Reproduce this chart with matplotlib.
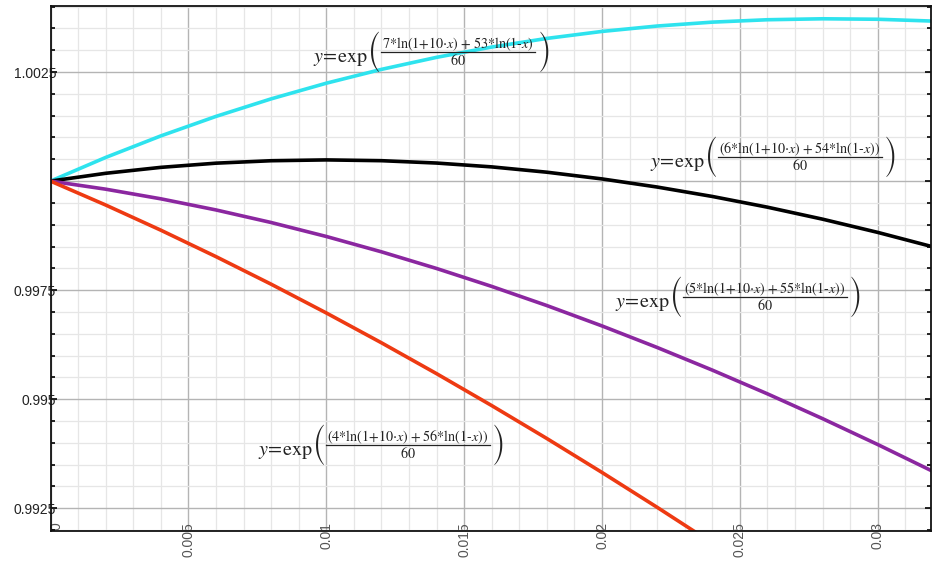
import matplotlib
matplotlib.use("Agg")
import matplotlib.pyplot as plt
from matplotlib.ticker import MultipleLocator, FixedLocator
from matplotlib.lines import Line2D
from matplotlib.transforms import ScaledTranslation

# values, x step 0.002
x_vals = [0.000, 0.002, 0.004, 0.006, 0.008, 0.010, 0.012, 0.014, 0.016,
          0.018, 0.020, 0.022, 0.024, 0.026, 0.028, 0.030, 0.032]
y_k7 = [1.000000, 1.000542, 1.001036, 1.001483, 1.001885, 1.002244, 1.002561,
        1.002837, 1.003073, 1.003271, 1.003431, 1.003555, 1.003644, 1.003699,
        1.003721, 1.003710, 1.003668]
y_k6 = [1.000000, 1.000179, 1.000315, 1.000411, 1.000467, 1.000486, 1.000468,
        1.000414, 1.000326, 1.000204, 1.000050, 0.999864, 0.999648, 0.999402,
        0.999127, 0.998824, 0.998493]
y_k5 = [1.000000, 0.999815, 0.999594, 0.999339, 0.999051, 0.998731, 0.998379,
        0.997997, 0.997586, 0.997147, 0.996680, 0.996186, 0.995667, 0.995123,
        0.994554, 0.993961, 0.993345]
y_k4 = [1.000000, 0.999452, 0.998875, 0.998269, 0.997637, 0.996978, 0.996294,
        0.995586, 0.994854, 0.994099, 0.993321, 0.992522, 0.991703, 0.990862]

x_ticks = [0, 0.005, 0.01, 0.015, 0.02, 0.025, 0.03]
x_tick_labels = ["0", "0.005", "0.01", "0.015", "0.02", "0.025", "0.03"]
y_ticks = [0.9925, 0.995, 0.9975, 1.0, 1.0025]
y_tick_labels = ["0.9925", "0.995", "0.9975", "", "1.0025"]

numerators = [
    r"$7{*}\mathrm{ln}(1{+}10{\cdot}x)\;{+}\;53{*}\mathrm{ln}(1\text{-}x)$",
    r"$(6{*}\mathrm{ln}(1{+}10{\cdot}x)\;{+}\;54{*}\mathrm{ln}(1\text{-}x))$",
    r"$(5{*}\mathrm{ln}(1{+}10{\cdot}x)\;{+}\;55{*}\mathrm{ln}(1\text{-}x))$",
    r"$(4{*}\mathrm{ln}(1{+}10{\cdot}x)\;{+}\;56{*}\mathrm{ln}(1\text{-}x))$",
]
denominator = r"$60$"
prefix = r"$y\!=\!\mathrm{exp}$"

plt.rcParams["mathtext.fontset"] = "stix"
plt.rcParams["font.family"] = ["Liberation Sans", "DejaVu Sans"]

W, H = 933, 566
fig = plt.figure(figsize=(W / 100, H / 100), dpi=100)
ax = fig.add_axes([50.5 / W, (H - 530.7) / H, (931 - 50.5) / W, (530.7 - 6) / H])

ax.set_xlim(0, 0.03193)
ax.set_ylim(0.991986, 1.004014)

ax.xaxis.set_major_locator(FixedLocator(x_ticks))
ax.set_xticklabels(x_tick_labels, rotation=90, color="#555555", fontsize=10)
ax.xaxis.set_minor_locator(MultipleLocator(0.001))
ax.yaxis.set_major_locator(FixedLocator(y_ticks))
ax.set_yticklabels(y_tick_labels, fontsize=10, color="#222222")
ax.yaxis.set_minor_locator(MultipleLocator(0.0005))

ax.grid(which="major", color="#b4b4b4", linewidth=1.0)
ax.grid(which="minor", color="#e6e6e6", linewidth=0.9)
ax.set_axisbelow(True)

ax.tick_params(axis="x", which="both", length=0, pad=-6)
ax.tick_params(axis="y", which="major", direction="in", length=4, width=1.2, pad=-4,
               right=True, left=True)
ax.tick_params(axis="y", which="minor", direction="in", length=3, width=1.2,
               right=True, left=True)
for lab in ax.get_yticklabels():
    lab.set_horizontalalignment("right")
for lab in ax.get_xticklabels():
    lab.set_verticalalignment("top")
zero_lab = ax.get_xticklabels()[0]
zero_lab.set_transform(zero_lab.get_transform() +
                       ScaledTranslation(6 / 100, 0, fig.dpi_scale_trans))

for s in ax.spines.values():
    s.set_color("#111111")
    s.set_linewidth(1.3)

ax.plot(x_vals, y_k7, color="#2ee3ee", linewidth=2.6, solid_capstyle="round")
ax.plot(x_vals, y_k6, color="#000000", linewidth=2.6, solid_capstyle="round")
ax.plot(x_vals, y_k5, color="#8b27a0", linewidth=2.6, solid_capstyle="round")
ax.plot(x_vals[:len(y_k4)], y_k4, color="#ee3a12", linewidth=2.6, solid_capstyle="round")

# formula labels: (x start, baseline) in pixels from top-left
label_px = [(313, 62), (650, 167), (615, 307), (258, 455)]
TXT = "#222222"
renderer = fig.canvas.get_renderer()


def fx(px):
    return px / W


def fy(py):
    return 1 - py / H


for (x0, b), num in zip(label_px, numerators):
    t = fig.text(fx(x0), fy(b), prefix, fontsize=14.5, ha="left", va="baseline",
                 color=TXT)
    e = t.get_window_extent(renderer)
    bar_y = b - 10
    lp = fig.text(fx(e.x1), fy(bar_y), "(", family="STIXSizeTwoSym",
                  fontsize=15.5, ha="left", va="center", color=TXT)
    ep = lp.get_window_extent(renderer)
    tn = fig.text(0, fy(b - 14), num, fontsize=10.2, ha="center", va="baseline",
                  color=TXT)
    en = tn.get_window_extent(renderer)
    nw = en.width
    cx = ep.x1 + 2 + nw / 2
    tn.set_x(fx(cx))
    fig.text(fx(cx), fy(b + 3), denominator, fontsize=10.2, ha="center",
             va="baseline", color=TXT)
    fig.add_artist(Line2D([fx(cx - nw / 2 - 1), fx(cx + nw / 2 + 1)],
                          [fy(bar_y), fy(bar_y)], transform=fig.transFigure,
                          color=TXT, linewidth=0.9))
    fig.text(fx(cx + nw / 2 + 3), fy(bar_y), ")", family="STIXSizeTwoSym",
             fontsize=15.5, ha="left", va="center", color=TXT)

fig.savefig("out.png", dpi=100)
